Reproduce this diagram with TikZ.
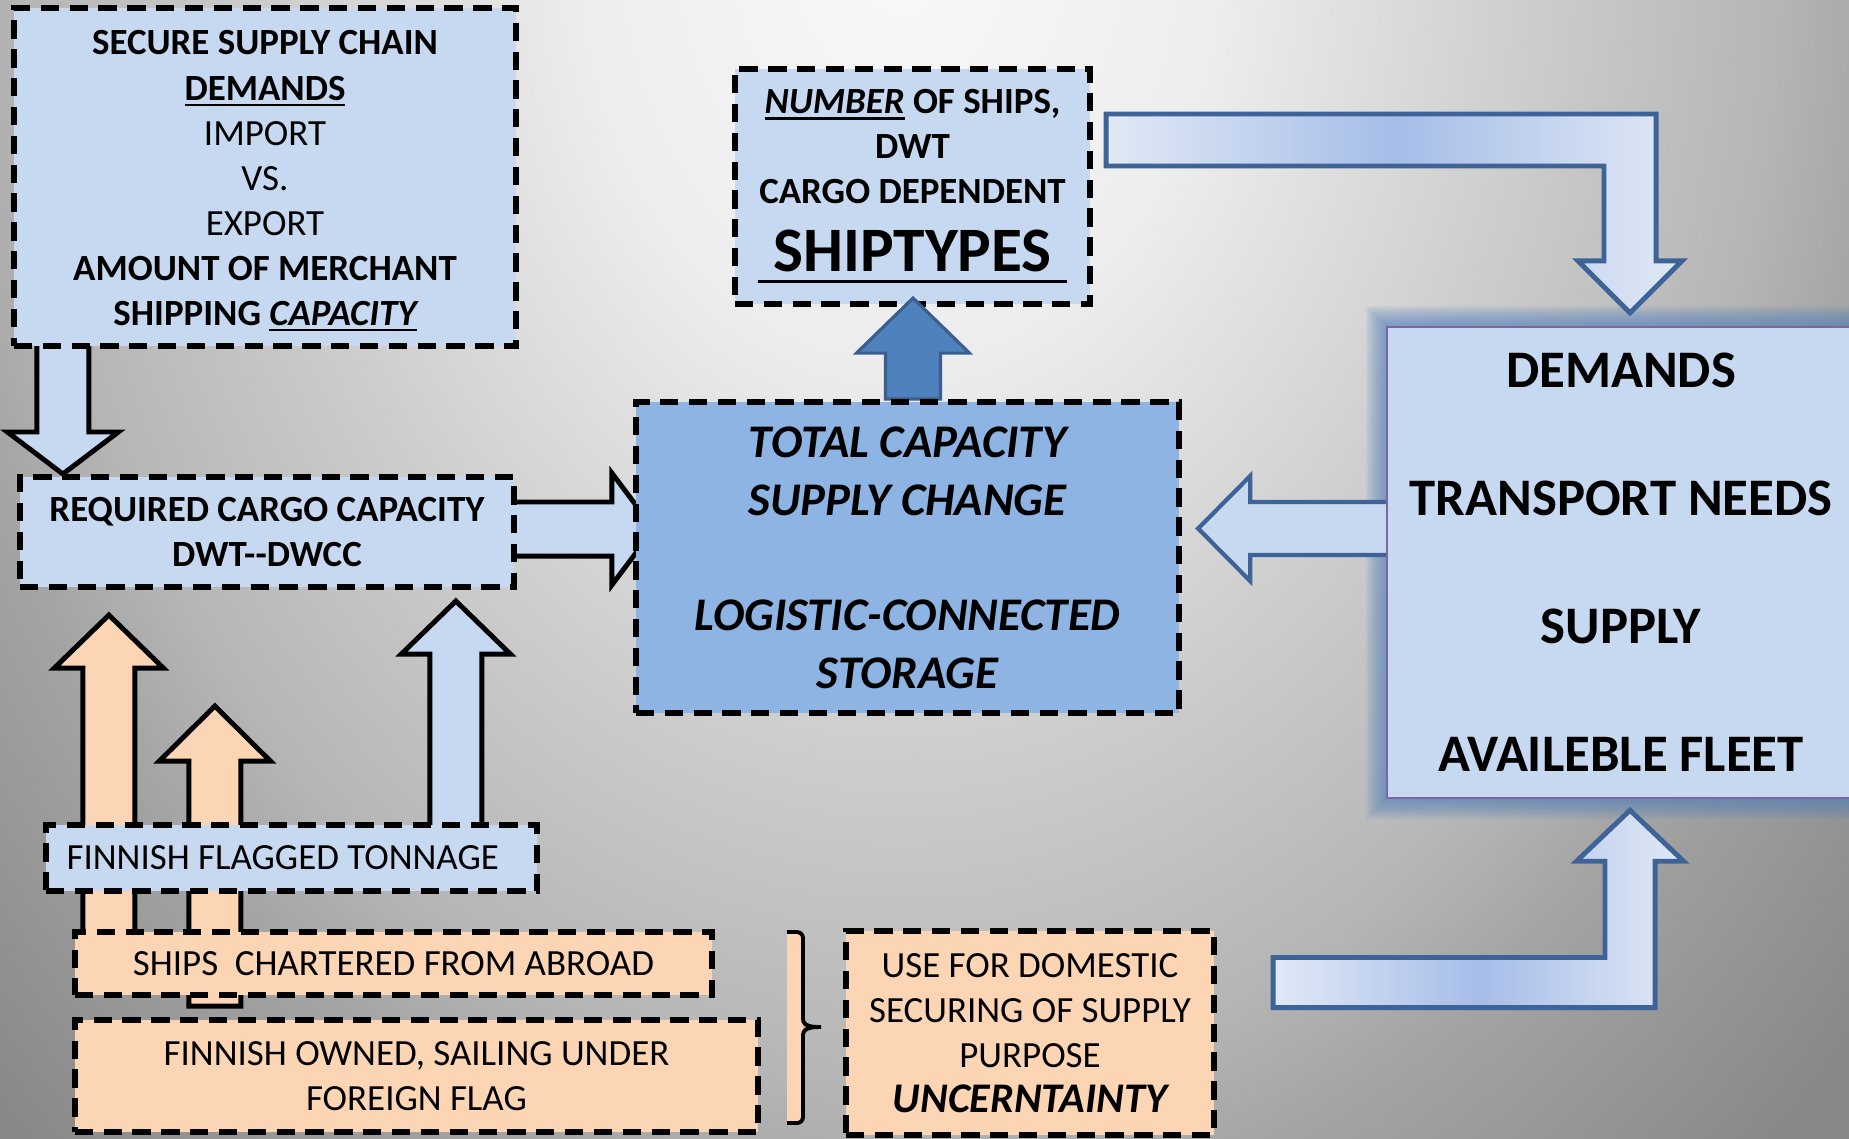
\documentclass[tikz,border=0pt]{standalone}
\usepackage{fontspec}
\setmainfont{Carlito}
\usepackage{xcolor}
\usepackage{tikz}
\usetikzlibrary{calc}

\definecolor{boxblue}{HTML}{C6D9F1}
\definecolor{midblue}{HTML}{8EB4E3}
\definecolor{darkblue}{HTML}{4F81BD}
\definecolor{edgeblue}{HTML}{3D6399}
\definecolor{edgedark}{HTML}{3A5F8F}
\definecolor{peach}{HTML}{FCD5B5}
\definecolor{glowpurple}{HTML}{8064A2}
\definecolor{bentlight}{HTML}{E1E9F6}
\definecolor{bentmid}{HTML}{A6BDE8}

\pgfdeclarelayer{backdrop}
\pgfdeclarelayer{arrows}
\pgfdeclarelayer{front}
\pgfsetlayers{backdrop,arrows,main,front}

\pgfdeclareradialshading{bgglow}{\pgfpoint{0bp}{0bp}}{rgb(0bp)=(.975,.975,.975); rgb(8bp)=(.93,.93,.93); rgb(16bp)=(.80,.80,.80); rgb(22bp)=(.71,.71,.71); rgb(25bp)=(.64,.64,.64); rgb(32bp)=(.53,.53,.53); rgb(50bp)=(.51,.51,.51)}

\newsavebox{\undlbox}
\newcommand{\undl}[1]{\sbox\undlbox{#1}\rlap{\rule[-1.6pt]{\wd\undlbox}{0.6pt}}\usebox\undlbox}

% block arrows: style, base, tip, shaft half, head half, head length
\newcommand{\varrow}[6]{%
  \path[#1] let \p1=#2, \p2=#3 in
    ({\x2-#4},\y1) -- ({\x2-#4},{\y2+#6*sign(\y1-\y2)}) -- ({\x2-#5},{\y2+#6*sign(\y1-\y2)})
    -- (\x2,\y2) -- ({\x2+#5},{\y2+#6*sign(\y1-\y2)}) -- ({\x2+#4},{\y2+#6*sign(\y1-\y2)})
    -- ({\x2+#4},\y1) -- cycle;}
\newcommand{\harrow}[6]{%
  \path[#1] let \p1=#2, \p2=#3 in
    (\x1,{\y2-#4}) -- ({\x2+#6*sign(\x1-\x2)},{\y2-#4}) -- ({\x2+#6*sign(\x1-\x2)},{\y2-#5})
    -- (\x2,\y2) -- ({\x2+#6*sign(\x1-\x2)},{\y2+#5}) -- ({\x2+#6*sign(\x1-\x2)},{\y2+#4})
    -- (\x1,{\y2+#4}) -- cycle;}
\newcommand{\bentarrow}[6]{%
  \path[#1] let \p1=#2, \p2=#3 in
    (\x1,{\y1+#4*sign(\y1-\y2)}) -- ({\x2+#4},{\y1+#4*sign(\y1-\y2)}) -- ({\x2+#4},{\y2+#6*sign(\y1-\y2)})
    -- ({\x2+#5},{\y2+#6*sign(\y1-\y2)}) -- (\x2,\y2) -- ({\x2-#5},{\y2+#6*sign(\y1-\y2)})
    -- ({\x2-#4},{\y2+#6*sign(\y1-\y2)}) -- ({\x2-#4},{\y1-#4*sign(\y1-\y2)}) -- (\x1,{\y1-#4*sign(\y1-\y2)}) -- cycle;}

\tikzset{
  dashbox/.style={draw=black, line width=1.7pt, dash pattern=on 5.2pt off 3pt, align=center,
    inner sep=0pt, font=\fontsize{10.5}{12.8}\selectfont\bfseries},
  bluebox/.style={dashbox, fill=boxblue},
  peachbox/.style={dashbox, fill=peach, font=\fontsize{10.5}{12.8}\selectfont},
  blkarrow/.style={draw=black, line width=1.4pt, line join=miter, fill=#1},
  blkarrow/.default=boxblue,
  bluearrow/.style={draw=edgeblue, line width=1.2pt, line join=miter, fill=boxblue},
  darkarrow/.style={draw=edgedark, line width=0.9pt, line join=miter, fill=darkblue},
  bentarrow/.style={draw=edgeblue, line width=1.4pt, line join=miter,
    left color=bentlight, right color=bentlight, middle color=bentmid},
}

\begin{document}
\begin{tikzpicture}[x=0.01cm, y=-0.01cm]
\useasboundingbox (0,0) rectangle (1849,1138);

% boxes
\node[bluebox, minimum width=5.02cm, minimum height=3.38cm] (secure) at (265,177)
  {\rule{0pt}{9pt}SECURE SUPPLY CHAIN\\ \undl{DEMANDS}\\ \mdseries IMPORT\\ \mdseries VS.\\ \mdseries EXPORT\\
   AMOUNT OF MERCHANT\\ SHIPPING \undl{\itshape CAPACITY}};
\node[bluebox, minimum width=4.94cm, minimum height=1.10cm] (reqcap) at (267,532)
  {REQUIRED CARGO CAPACITY\\ DWT-{}-DWCC};
\node[bluebox, minimum width=3.55cm, minimum height=2.35cm] (shiptype) at (912.5,186.5)
  {\undl{\itshape NUMBER} OF SHIPS,\\ DWT\\ CARGO DEPENDENT\\[6.5pt]
   \fontsize{18}{21}\selectfont\rlap{\rule[-3.3pt]{88pt}{0.9pt}}\makebox[88pt]{SHIPTYPES}};
\node[bluebox, draw=glowpurple, line width=0.6pt, solid, font=\fontsize{15}{18.2}\selectfont\bfseries,
  minimum width=4.68cm, minimum height=4.71cm] (demand) at (1621,562.5)
  {DEMANDS\\ \\ TRANSPORT NEEDS\\ \\ SUPPLY\\ \\ AVAILEBLE FLEET};
\node[bluebox, font=\fontsize{10.5}{12.8}\selectfont, minimum width=4.91cm, minimum height=0.66cm]
  (fft) at (291.5,858) {FINNISH FLAGGED TONNAGE\hspace*{5pt}};
\node[peachbox, minimum width=6.37cm, minimum height=0.63cm] (chartered) at (393.5,963.5)
  {SHIPS\ \ CHARTERED FROM ABROAD};
\node[peachbox, minimum width=6.83cm, minimum height=1.12cm] (owned) at (416.5,1076)
  {FINNISH OWNED, SAILING UNDER\\ FOREIGN FLAG};
\node[peachbox, minimum width=3.68cm, minimum height=2.04cm] (domestic) at (1030,1033)
  {USE FOR DOMESTIC\\ SECURING OF SUPPLY\\ PURPOSE\\ \fontsize{12}{14}\selectfont\bfseries\itshape UNCERNTAINTY};
\begin{pgfonlayer}{front}
\node[bluebox, fill=midblue, font=\fontsize{13.3}{16.4}\selectfont\bfseries\itshape,
  minimum width=5.43cm, minimum height=3.11cm] (totcap) at (907.5,557.5)
  {TOTAL CAPACITY\\ SUPPLY CHANGE\\ \\ LOGISTIC-CONNECTED\\ STORAGE};
\end{pgfonlayer}

% brace
\fill[peach] (787,932) rectangle (803,1123);
\draw[line width=1.1pt] (787,932) -- (797,932) to[out=0,in=90] (803,938) -- (803,1019)
  to[out=-90,in=180] (821,1027) to[out=180,in=90] (803,1035) -- (803,1117)
  to[out=-90,in=0] (797,1123) -- (787,1123);

% arrow up into the ship box
\varrow{darkarrow}{(totcap.north)}{($(shiptype.south)+(0.5,-9)$)}{0.275cm}{0.565cm}{0.55cm}

\begin{pgfonlayer}{arrows}
\varrow{blkarrow}{($(secure.south west)+(52,-10)$)}{($(reqcap.north west)+(46,0)$)}{0.26cm}{0.555cm}{0.42cm}
\harrow{blkarrow}{($(reqcap.east)+(-10,-3)$)}{($(totcap.west)+(21,-28.5)$)}{0.27cm}{0.56cm}{0.42cm}
\harrow{bluearrow}{($(demand.west)+(8,-34)$)}{($(totcap.east)+(16,-29)$)}{0.265cm}{0.525cm}{0.52cm}
\varrow{blkarrow=peach}{($(chartered.north west)+(37,13)$)}{($(reqcap.south west)+(92,25)$)}{0.26cm}{0.545cm}{0.53cm}
\varrow{blkarrow=peach}{($(chartered.south west)+(143,8)$)}{($(reqcap.south west)+(198,116)$)}{0.26cm}{0.555cm}{0.55cm}
\varrow{blkarrow}{($(fft.north west)+(413,10)$)}{($(reqcap.south west)+(439,11)$)}{0.26cm}{0.545cm}{0.53cm}
\bentarrow{bentarrow}{($(shiptype.east)+(13,-46.5)$)}{($(demand.north)+(9,-13)$)}{0.26cm}{0.52cm}{0.52cm}
\bentarrow{bentarrow}{($(domestic.east)+(56,-50.5)$)}{($(demand.south)+(9,11)$)}{0.25cm}{0.535cm}{0.51cm}
\end{pgfonlayer}

% background and glow
\begin{pgfonlayer}{backdrop}
\shade[shading=bgglow] (-100,-1360) rectangle (1900,1240);
\foreach \g in {2,4,...,20}
  \fill[darkblue, opacity=0.09] ($(demand.south west)+(-\g,\g)$) rectangle ($(demand.north east)+(\g,-\g)$);
\end{pgfonlayer}
\end{tikzpicture}
\end{document}
